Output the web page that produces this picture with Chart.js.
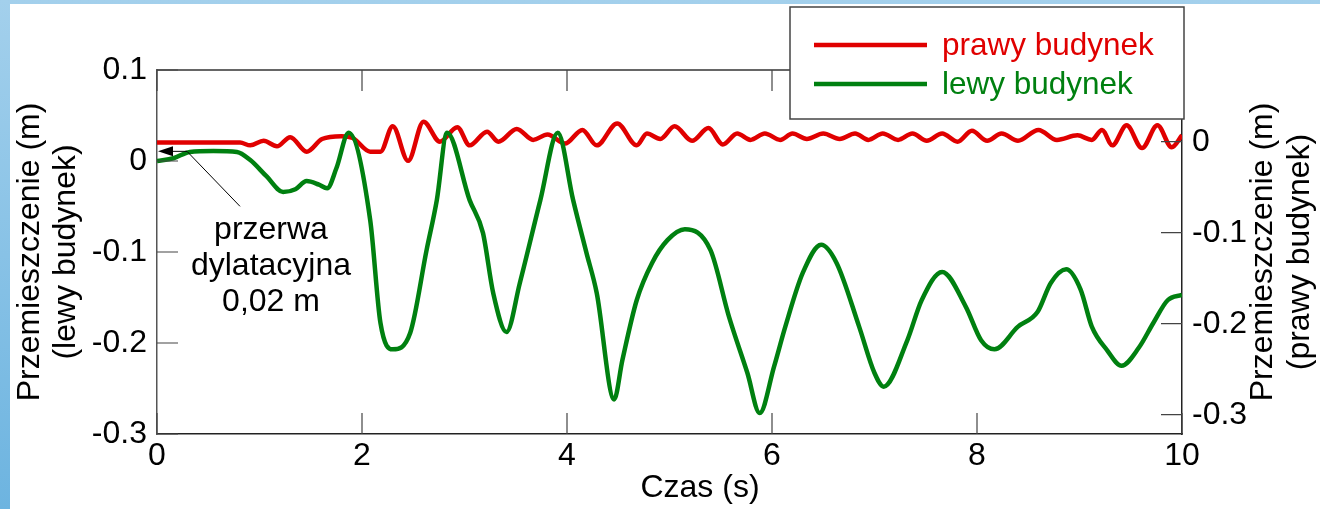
<!DOCTYPE html>
<html>
<head>
<meta charset="utf-8">
<script src="https://cdn.jsdelivr.net/npm/chart.js@4"></script>
<style>
    body { margin: 0; }
    #wrap { position: relative; width: 1320px; height: 509px; background: linear-gradient(#a3d0ec, #6db4e0); overflow: hidden; }
    #paper { position: absolute; left: 10px; top: 4px; right: 0; bottom: 0; background: #fff; }
    #chart { position: absolute; left: 0; top: 0; }
</style>
</head>
<body>
<div id="wrap">
    <div id="paper"></div>
    <canvas id="chart" width="1320" height="509"></canvas>
</div>
<script>
// lewy budynek (left axis)
const timeLewy = [0, 0.16, 0.32, 0.55, 0.78, 0.91, 1.07, 1.23, 1.35, 1.46, 1.58, 1.66, 1.75, 1.87,
    2.08, 2.18, 2.30, 2.47, 2.63, 2.73, 2.83, 3.05, 3.18, 3.28, 3.41, 3.54, 3.74, 3.91,
    4.06, 4.19, 4.29, 4.46, 4.54, 4.68, 4.83, 4.98, 5.15, 5.40, 5.58, 5.76, 5.88,
    6.02, 6.13, 6.30, 6.48, 6.63, 6.85, 7.00, 7.09, 7.32, 7.46, 7.66, 7.89, 8.04, 8.17,
    8.40, 8.59, 8.72, 8.87, 9.01, 9.12, 9.27, 9.41, 9.58, 9.72, 9.86, 10.0];
const lewy = [0.000, 0.003, 0.010, 0.011, 0.010, 0.001, -0.017, -0.034, -0.031, -0.022, -0.026, -0.030, -0.008, 0.031,
    -0.065, -0.178, -0.207, -0.189, -0.098, -0.043, 0.031, -0.043, -0.079, -0.145, -0.188, -0.134, -0.043, 0.031,
    -0.043, -0.101, -0.145, -0.262, -0.219, -0.153, -0.112, -0.087, -0.075, -0.098, -0.171, -0.233, -0.277,
    -0.226, -0.182, -0.123, -0.092, -0.112, -0.182, -0.233, -0.248, -0.197, -0.153, -0.122, -0.160, -0.197, -0.207,
    -0.182, -0.166, -0.134, -0.119, -0.141, -0.182, -0.208, -0.225, -0.205, -0.178, -0.153, -0.147];

// prawy budynek (right axis)
const timePrawy = [0, 0.40, 0.81, 0.91, 1.04, 1.17, 1.30, 1.46, 1.61, 1.80, 1.91, 2.08, 2.18, 2.30, 2.45, 2.60, 2.76,
    2.93, 3.05, 3.22, 3.33, 3.51, 3.67, 3.81, 3.98, 4.15, 4.29, 4.49, 4.68, 4.78, 4.91, 5.05, 5.22, 5.38,
    5.52, 5.66, 5.79, 5.93, 6.08, 6.20, 6.34, 6.50, 6.66, 6.81, 6.94, 7.08, 7.23, 7.37, 7.51, 7.66, 7.81,
    7.95, 8.10, 8.24, 8.40, 8.60, 8.78, 8.98, 9.12, 9.22, 9.32, 9.46, 9.61, 9.76, 9.90, 10.0];
const prawy = [-0.001, -0.001, -0.001, -0.004, 0.001, -0.005, 0.005, -0.011, 0.003, 0.006, 0.004, -0.011, -0.011, 0.017, -0.021, 0.022, 0.000,
    0.016, -0.004, 0.011, 0.000, 0.014, 0.002, 0.008, -0.002, 0.013, -0.004, 0.020, -0.004, 0.009, 0.003, 0.017, 0.001, 0.015,
    -0.003, 0.009, 0.002, 0.009, 0.002, 0.009, 0.003, 0.009, 0.003, 0.009, 0.002, 0.009, 0.002, 0.009, 0.001, 0.009, 0.000,
    0.012, 0.001, 0.009, 0.001, 0.013, 0.002, 0.007, 0.002, 0.013, -0.004, 0.018, -0.007, 0.018, -0.006, 0.007];

const xTicks = [0, 2, 4, 6, 8, 10];
const yTicksLewy = [0.1, 0, -0.1, -0.2, -0.3];
const yTicksPrawy = [0, -0.1, -0.2, -0.3];
const rangeLewy = [-0.3, 0.1];
const rangePrawy = [-0.3212, 0.0788];

const seriesNames = ['prawy budynek', 'lewy budynek'];
const RED = '#e00000';
const GREEN = '#008010';
const FONT = '"Liberation Sans", Arial, sans-serif';

function fmt(v) {
    return Math.abs(v) < 1e-9 ? '0' : v.toFixed(1);
}

// frame, inward tick marks, legend box, annotation and side titles
const decorations = {
    id: 'decorations',
    afterDraw(chart) {
        const ctx = chart.ctx;
        const a = chart.chartArea;
        const sx = chart.scales.x, sy = chart.scales.y, sy2 = chart.scales.y2;
        ctx.save();

        // top border of the frame
        ctx.strokeStyle = '#333';
        ctx.lineWidth = 1.5;
        ctx.beginPath();
        ctx.moveTo(a.left, a.top);
        ctx.lineTo(a.right, a.top);
        ctx.stroke();

        // tick marks pointing inside
        const tl = 21;
        ctx.strokeStyle = '#444';
        ctx.lineWidth = 1.2;
        ctx.beginPath();
        xTicks.forEach(v => {
            const px = sx.getPixelForValue(v);
            ctx.moveTo(px, a.bottom); ctx.lineTo(px, a.bottom - tl);
            ctx.moveTo(px, a.top); ctx.lineTo(px, a.top + tl);
        });
        yTicksLewy.forEach(v => {
            const py = sy.getPixelForValue(v);
            ctx.moveTo(a.left, py); ctx.lineTo(a.left + tl, py);
        });
        yTicksPrawy.forEach(v => {
            const py = sy2.getPixelForValue(v);
            ctx.moveTo(a.right, py); ctx.lineTo(a.right - tl, py);
        });
        ctx.stroke();

        // legend box
        const lx = 790, ly = 7, lw = 394, lh = 112;
        ctx.fillStyle = '#fff';
        ctx.fillRect(lx, ly, lw, lh);
        ctx.strokeStyle = '#444';
        ctx.lineWidth = 1.5;
        ctx.strokeRect(lx, ly, lw, lh);
        chart.data.datasets.forEach((d, i) => {
            const yy = ly + 38 + i * 39;
            ctx.strokeStyle = d.borderColor;
            ctx.lineWidth = 4.5;
            ctx.beginPath();
            ctx.moveTo(lx + 24, yy);
            ctx.lineTo(lx + 137, yy);
            ctx.stroke();
            ctx.fillStyle = d.borderColor;
            ctx.font = '31.5px ' + FONT;
            ctx.textAlign = 'left';
            ctx.textBaseline = 'middle';
            ctx.fillText(d.label, lx + 152, yy + 1);
        });

        // expansion gap annotation
        const x0 = sx.getPixelForValue(0);
        const gapY = (sy.getPixelForValue(0) + sy2.getPixelForValue(0)) / 2;
        ctx.strokeStyle = '#000';
        ctx.fillStyle = '#000';
        ctx.lineWidth = 1;
        ctx.beginPath();
        ctx.moveTo(x0 + 30, gapY);
        ctx.lineTo(x0 + 14, gapY);
        ctx.moveTo(x0 + 30, gapY);
        ctx.lineTo(x0 + 83, gapY + 55);
        ctx.stroke();
        ctx.beginPath();
        ctx.moveTo(x0 + 1, gapY);
        ctx.lineTo(x0 + 16, gapY - 5);
        ctx.lineTo(x0 + 16, gapY + 5);
        ctx.closePath();
        ctx.fill();
        ctx.font = '32px ' + FONT;
        ctx.textAlign = 'center';
        ctx.textBaseline = 'middle';
        ['przerwa', 'dylatacyjna', '0,02 m'].forEach((s, i) => {
            ctx.fillText(s, 271, 230 + i * 36);
        });

        // x axis title
        ctx.fillText('Czas (s)', 700, 488);

        // right axis title, reading upwards like the left one
        ctx.translate(1263, (a.top + a.bottom) / 2);
        ctx.rotate(-Math.PI / 2);
        ctx.fillText('Przemieszczenie (m)', 0, 0);
        ctx.fillText('(prawy budynek)', 0, 37);
        ctx.restore();
    }
};

const ctx = document.getElementById('chart').getContext('2d');
new Chart(ctx, {
    type: 'line',
    data: {
        datasets: [{
            label: seriesNames[0],
            data: timePrawy.map((t, i) => ({ x: t, y: prawy[i] })),
            yAxisID: 'y2',
            borderColor: RED,
            borderWidth: 4.5,
            pointRadius: 0,
            cubicInterpolationMode: 'monotone',
            order: 1
        }, {
            label: seriesNames[1],
            data: timeLewy.map((t, i) => ({ x: t, y: lewy[i] })),
            yAxisID: 'y',
            borderColor: GREEN,
            borderWidth: 4.5,
            pointRadius: 0,
            cubicInterpolationMode: 'monotone',
            order: 0
        }]
    },
    options: {
        responsive: false,
        animation: false,
        devicePixelRatio: 1,
        layout: { padding: { top: 70, left: 0, right: 0, bottom: 0 } },
        plugins: {
            legend: { display: false },
            tooltip: { enabled: false }
        },
        scales: {
            x: {
                type: 'linear',
                position: 'bottom',
                min: 0,
                max: 10,
                afterBuildTicks: s => { s.ticks = xTicks.map(v => ({ value: v })); },
                afterFit: s => { s.height = 75; },
                grid: { display: false, drawTicks: false },
                border: { display: true, color: '#222', width: 1.5 },
                ticks: {
                    color: '#000',
                    font: { family: FONT, size: 32 },
                    padding: 3,
                    maxRotation: 0,
                    autoSkip: false,
                    callback: v => String(v)
                }
            },
            y: {
                type: 'linear',
                position: 'left',
                min: rangeLewy[0],
                max: rangeLewy[1],
                afterBuildTicks: s => { s.ticks = yTicksLewy.map(v => ({ value: v })); },
                afterFit: s => { s.width = 157; },
                grid: { display: false, drawTicks: false },
                border: { display: true, color: '#555', width: 1.5 },
                ticks: {
                    color: '#000',
                    font: { family: FONT, size: 32 },
                    padding: 10,
                    callback: v => fmt(v)
                },
                title: {
                    display: true,
                    text: ['Przemieszczenie (m)', '(lewy budynek)'],
                    color: '#000',
                    font: { family: FONT, size: 32, lineHeight: 1.125 },
                    padding: { top: 12, bottom: 0 }
                }
            },
            y2: {
                type: 'linear',
                position: 'right',
                min: rangePrawy[0],
                max: rangePrawy[1],
                afterBuildTicks: s => { s.ticks = yTicksPrawy.map(v => ({ value: v })); },
                afterFit: s => { s.width = 138; },
                grid: { display: false, drawTicks: false },
                border: { display: true, color: '#222', width: 1.5 },
                ticks: {
                    color: '#000',
                    font: { family: FONT, size: 32 },
                    padding: 10,
                    callback: v => fmt(v)
                }
            }
        }
    },
    plugins: [decorations]
});
</script>
</body>
</html>
